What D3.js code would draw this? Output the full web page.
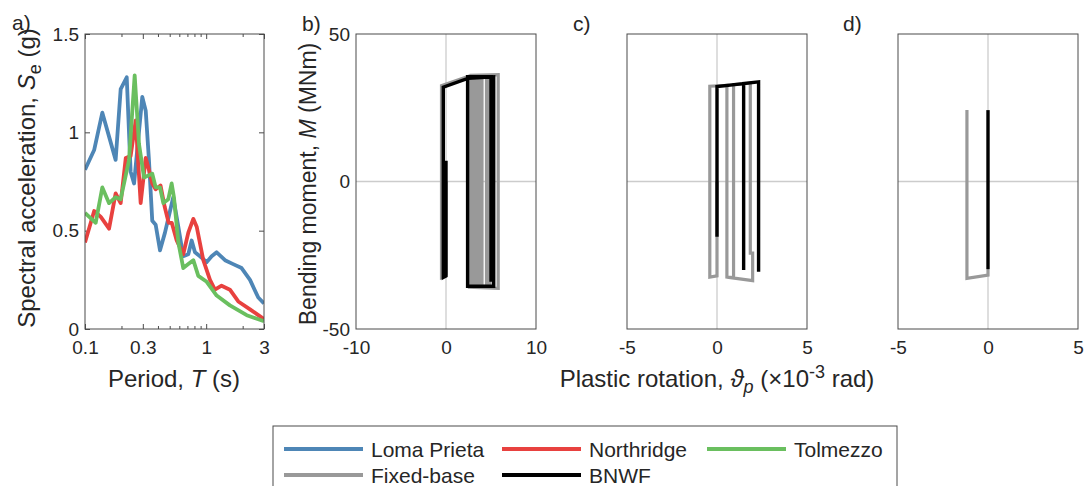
<!DOCTYPE html>
<html>
<head>
<meta charset="utf-8">
<script src="https://d3js.org/d3.v7.min.js"></script>
<style>
  body { margin: 0; background: #fff; }
  svg { font-family: Arial, "Liberation Sans", Helvetica, sans-serif; }
</style>
</head>
<body>
<div id="container"></div>
<script>
// ---- panel a: response spectra (period in s, Sa in g) ----
const lomaT = [0.1, 0.119, 0.139, 0.179, 0.197, 0.221, 0.238, 0.254, 0.297, 0.317, 0.337, 0.359, 0.383, 0.416, 0.457, 0.503, 0.535, 0.589, 0.647, 0.712, 0.759, 0.808, 0.889, 1.01, 1.11, 1.22, 1.43, 1.67, 1.96, 2.30, 2.69, 3.0];
const lomaSa = [0.81, 0.91, 1.10, 0.86, 1.22, 1.28, 0.80, 0.74, 1.18, 1.11, 0.86, 0.55, 0.53, 0.40, 0.49, 0.60, 0.67, 0.52, 0.37, 0.38, 0.45, 0.39, 0.37, 0.34, 0.37, 0.39, 0.35, 0.33, 0.31, 0.25, 0.16, 0.13];

const northT = [0.1, 0.119, 0.135, 0.158, 0.179, 0.197, 0.217, 0.238, 0.262, 0.288, 0.317, 0.337, 0.359, 0.383, 0.42, 0.455, 0.49, 0.52, 0.571, 0.647, 0.712, 0.783, 0.835, 0.947, 1.075, 1.18, 1.34, 1.57, 1.84, 2.30, 3.0];
const northSa = [0.44, 0.60, 0.57, 0.51, 0.69, 0.64, 0.87, 0.88, 1.06, 0.64, 0.87, 0.81, 0.74, 0.71, 0.73, 0.62, 0.54, 0.54, 0.45, 0.38, 0.49, 0.56, 0.52, 0.35, 0.25, 0.20, 0.22, 0.20, 0.14, 0.10, 0.05];

const tolmT = [0.1, 0.1225, 0.139, 0.158, 0.179, 0.197, 0.231, 0.257, 0.279, 0.307, 0.359, 0.383, 0.416, 0.443, 0.487, 0.519, 0.542, 0.589, 0.647, 0.712, 0.783, 0.861, 1.01, 1.22, 1.57, 2.16, 3.0];
const tolmSa = [0.59, 0.54, 0.72, 0.64, 0.67, 0.66, 0.86, 1.29, 0.94, 0.77, 0.79, 0.72, 0.72, 0.64, 0.66, 0.74, 0.67, 0.44, 0.31, 0.33, 0.35, 0.27, 0.24, 0.17, 0.12, 0.07, 0.04];

const periodTicks = [0.1, 0.3, 1, 3];
const periodMinor = [0.2, 0.4, 0.5, 0.6, 0.7, 0.8, 0.9, 2];
const saTicks = [0, 0.5, 1, 1.5];

// ---- panels b-d: moment (MNm) vs plastic rotation (x10^-3 rad) ----
const fixedB = [[0,0],[0,-31.5],[-0.5,-32.5],[-0.5,32.5],[2.6,35.8],[2.6,-35.8],[5.8,-36.2],[5.8,36.2],[2.8,36],[2.8,-35.5],[3.0,-35.5],[3.0,35.8],[3.2,35.8],[3.2,-35.5],[3.4,-35.5],[3.4,35.8],[3.6,35.8],[3.6,-35.5],[3.8,-35.5],[3.8,35.8],[4.0,35.8],[4.0,-35.5],[4.5,-35.5],[4.5,35.8],[4.7,35.8],[4.7,-35.5],[4.9,-35.5],[4.9,35.8],[5.1,35.8],[5.1,-33]];
const bnwfB = [[0,0],[0,7],[0,-32],[-0.3,-32.5],[-0.3,32],[2.5,35],[5.3,35.5],[5.3,-35.5],[2.4,-35.5],[2.4,35.5],[5.0,35.5],[5.0,-34]];

const fixedC = [[0,0],[0,-32],[-0.4,-32.4],[-0.4,32.3],[0.55,32.6],[0.55,-32.4],[0.92,-32.6],[0.92,32.8],[1.85,33.3],[1.85,-24.3],[1.98,-24.3],[1.98,-33.6],[0.55,-32.4]];
const bnwfC = [[0,-18.7],[0,32.2],[1.48,33.2],[1.48,-30],[1.48,33.2],[2.31,33.8],[2.31,-30.6]];

const fixedD = [[-1.17,24.2],[-1.17,-32.8],[0,-31.7],[0,-30]];
const bnwfD = [[0,24.2],[0,-29.8]];

const momentTicks = [-50, 0, 50];
const rotTicksB = [-10, 0, 10];
const rotTicksCD = [-5, 0, 5];

// colours
const colLoma = "#4e86b6", colNorth = "#e8413f", colTolm = "#6abf5f";
const colFixed = "#999999", colBnwf = "#000000";
const axisCol = "#4a4a4a", textCol = "#262626";
const tickFont = 19, labelFont = 24;

const svg = d3.select("#container")
  .append("svg")
  .attr("width", 1085)
  .attr("height", 486);

// little helper to style tick labels like the other text
function styleAxis(g, showText) {
  g.select(".domain").remove();
  g.attr("font-size", tickFont).attr("font-family", null);
  g.selectAll("line").attr("stroke", axisCol);
  g.selectAll("text").attr("fill", textCol);
  if (!showText) g.selectAll("text").remove();
}

/* PANEL A */
const xA = d3.scaleLog().domain([0.1, 3]).range([85, 264]);
const yA = d3.scaleLinear().domain([0, 1.5]).range([329, 34]);

svg.append("defs").append("clipPath").attr("id", "clipA")
  .append("rect").attr("x", 85).attr("y", 34).attr("width", 179).attr("height", 295);

svg.append("g").attr("transform", "translate(0,329)")
  .call(d3.axisBottom(xA).tickValues(periodTicks).tickFormat(d => String(d)).tickSizeInner(-5).tickSizeOuter(0).tickPadding(12))
  .call(g => styleAxis(g, true));
svg.append("g").attr("transform", "translate(0,329)")
  .call(d3.axisBottom(xA).tickValues(periodMinor).tickFormat("").tickSizeInner(-3).tickSizeOuter(0))
  .call(g => styleAxis(g, false));
svg.append("g").attr("transform", "translate(0,34)")
  .call(d3.axisTop(xA).tickValues(periodTicks).tickSizeInner(-5).tickSizeOuter(0))
  .call(g => styleAxis(g, false));
svg.append("g").attr("transform", "translate(0,34)")
  .call(d3.axisTop(xA).tickValues(periodMinor).tickSizeInner(-3).tickSizeOuter(0))
  .call(g => styleAxis(g, false));
svg.append("g").attr("transform", "translate(85,0)")
  .call(d3.axisLeft(yA).tickValues(saTicks).tickFormat(d => String(d)).tickSizeInner(-5).tickSizeOuter(0).tickPadding(6))
  .call(g => styleAxis(g, true));
svg.append("g").attr("transform", "translate(264,0)")
  .call(d3.axisRight(yA).tickValues(saTicks).tickSizeInner(-5).tickSizeOuter(0))
  .call(g => styleAxis(g, false));

const spectra = [
  { T: lomaT, Sa: lomaSa, color: colLoma },
  { T: northT, Sa: northSa, color: colNorth },
  { T: tolmT, Sa: tolmSa, color: colTolm }
];
const lineA = d3.line().x(d => xA(d[0])).y(d => yA(d[1]));
spectra.forEach(s => {
  svg.append("path")
    .datum(s.T.map((t, i) => [t, s.Sa[i]]))
    .attr("clip-path", "url(#clipA)")
    .attr("d", lineA)
    .attr("fill", "none")
    .attr("stroke", s.color)
    .attr("stroke-width", 3.8)
    .attr("stroke-linejoin", "round");
});

svg.append("rect").attr("x", 85).attr("y", 34).attr("width", 179).attr("height", 295)
  .attr("fill", "none").attr("stroke", axisCol).attr("stroke-width", 1);

// labels for a
const labA = svg.append("text")
  .attr("x", 174).attr("y", 387)
  .attr("text-anchor", "middle").attr("font-size", labelFont).attr("fill", textCol);
labA.append("tspan").text("Period, ");
labA.append("tspan").attr("font-style", "italic").text("T");
labA.append("tspan").text(" (s)");

const yLabA = svg.append("text")
  .attr("transform", "translate(35,178) rotate(-90)")
  .attr("text-anchor", "middle").attr("font-size", labelFont).attr("fill", textCol);
yLabA.append("tspan").text("Spectral acceleration, ");
yLabA.append("tspan").attr("font-style", "italic").text("S");
yLabA.append("tspan").attr("font-size", labelFont * 0.75).attr("dy", 6).text("e");
yLabA.append("tspan").attr("dy", -6).text(" (g)");

/* PANELS B-D */
const panels = [
  { left: 356, xDomain: [-10, 10], xTicks: rotTicksB, fixed: fixedB, bnwf: bnwfB, tag: "b)", tagX: 302, yLabels: true },
  { left: 627, xDomain: [-5, 5], xTicks: rotTicksCD, fixed: fixedC, bnwf: bnwfC, tag: "c)", tagX: 573, yLabels: false },
  { left: 898, xDomain: [-5, 5], xTicks: rotTicksCD, fixed: fixedD, bnwf: bnwfD, tag: "d)", tagX: 843, yLabels: false }
];
const panelW = 180;
const yM = d3.scaleLinear().domain([-50, 50]).range([329, 34]);

panels.forEach(p => {
  const x = d3.scaleLinear().domain(p.xDomain).range([p.left, p.left + panelW]);

  // zero lines
  svg.append("line").attr("x1", x(0)).attr("x2", x(0)).attr("y1", 34).attr("y2", 329)
    .attr("stroke", "#cccccc").attr("stroke-width", 1.3);
  svg.append("line").attr("x1", p.left).attr("x2", p.left + panelW).attr("y1", yM(0)).attr("y2", yM(0))
    .attr("stroke", "#cccccc").attr("stroke-width", 1.3);

  svg.append("g").attr("transform", "translate(0,329)")
    .call(d3.axisBottom(x).tickValues(p.xTicks).tickFormat(d => String(d)).tickSize(0).tickPadding(12))
    .call(g => styleAxis(g, true));
  if (p.yLabels) {
    svg.append("g").attr("transform", `translate(${p.left},0)`)
      .call(d3.axisLeft(yM).tickValues(momentTicks).tickFormat(d => String(d)).tickSize(0).tickPadding(6))
      .call(g => styleAxis(g, true));
  }

  const line = d3.line().x(d => x(d[0])).y(d => yM(d[1]));
  svg.append("path").datum(p.fixed).attr("d", line)
    .attr("fill", "none").attr("stroke", colFixed).attr("stroke-width", 3.2);
  svg.append("path").datum(p.bnwf).attr("d", line)
    .attr("fill", "none").attr("stroke", colBnwf).attr("stroke-width", 3.4);

  svg.append("rect").attr("x", p.left).attr("y", 34).attr("width", panelW).attr("height", 295)
    .attr("fill", "none").attr("stroke", axisCol).attr("stroke-width", 1);

  svg.append("text").attr("x", p.tagX).attr("y", 31).attr("font-size", 21).attr("fill", textCol).text(p.tag);
});

svg.append("text").attr("x", 12).attr("y", 30).attr("font-size", 21).attr("fill", textCol).text("a)");

const yLabB = svg.append("text")
  .attr("transform", "translate(316,184) rotate(-90)")
  .attr("text-anchor", "middle").attr("font-size", 23).attr("fill", textCol);
yLabB.append("tspan").text("Bending moment, ");
yLabB.append("tspan").attr("font-style", "italic").text("M");
yLabB.append("tspan").text(" (MNm)");

// shared x label
const xLab = svg.append("text")
  .attr("x", 717).attr("y", 387)
  .attr("text-anchor", "middle").attr("font-size", labelFont).attr("fill", textCol);
xLab.append("tspan").text("Plastic rotation, ");
xLab.append("tspan").attr("font-style", "italic").text("\u03D1");
xLab.append("tspan").attr("font-style", "italic").attr("font-size", labelFont * 0.75).attr("dy", 6).text("p");
xLab.append("tspan").attr("dy", -6).text(" (\u00D710");
xLab.append("tspan").attr("font-size", labelFont * 0.75).attr("dy", -9).text("-3");
xLab.append("tspan").attr("dy", 9).text(" rad)");

/* LEGEND */
const legendItems = ["Loma Prieta", "Northridge", "Tolmezzo", "Fixed-base", "BNWF"];
const legendColors = [colLoma, colNorth, colTolm, colFixed, colBnwf];
const legendCols = [284, 502, 707];
const legendRows = [449, 475];

svg.append("rect").attr("x", 273).attr("y", 426).attr("width", 624).attr("height", 80)
  .attr("fill", "#fff").attr("stroke", axisCol).attr("stroke-width", 1);

legendItems.forEach((name, i) => {
  const lx = legendCols[i % 3], ly = legendRows[Math.floor(i / 3)];
  svg.append("line").attr("x1", lx).attr("x2", lx + 79).attr("y1", ly).attr("y2", ly)
    .attr("stroke", legendColors[i]).attr("stroke-width", 4);
  svg.append("text").attr("x", lx + 87).attr("y", ly + 7.5)
    .attr("font-size", 21).attr("fill", textCol).text(name);
});
</script>
</body>
</html>
